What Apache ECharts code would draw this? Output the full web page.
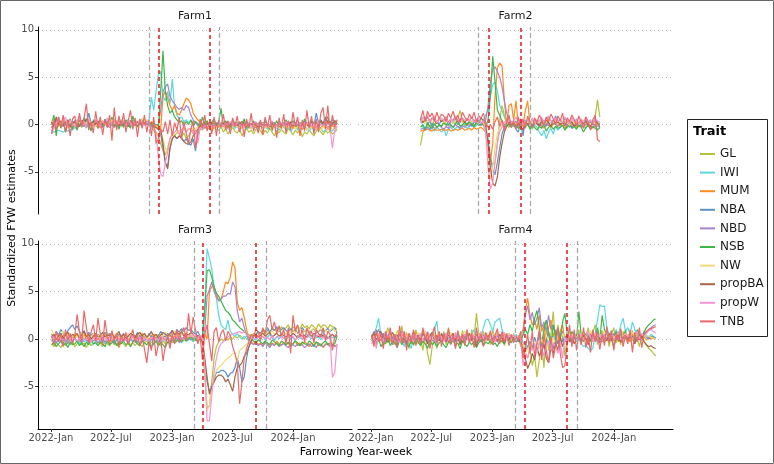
<!DOCTYPE html>
<html>
<head>
<meta charset="utf-8">
<script src="https://cdn.jsdelivr.net/npm/echarts@6/dist/echarts.min.js"></script>
<style>
  html, body { margin: 0; padding: 0; background: #fff; }
  #chart { width: 774px; height: 464px; }
</style>
</head>
<body>
<div id="chart"></div>
<script>
// weekly standardized FYW estimates, stored x10 (one value per week)
const traits = ['GL', 'IWI', 'MUM', 'NBA', 'NBD', 'NSB', 'NW', 'propBA', 'propW', 'TNB'];
const traitColors = ['#b5c23a', '#5cd8e0', '#ff8a1e', '#5c93c6', '#a884cc', '#40b548', '#f2d878', '#a8654a', '#f596d2', '#e86a6a'];
const farmNames = ['Farm1', 'Farm2', 'Farm3', 'Farm4'];
const farmFirstWeek = ['2022-01-03', '2022-05-30', '2022-01-03', '2022-01-03'];
const redLines = [['2022-11-23', '2023-04-26'], ['2022-12-20', '2023-03-27'], ['2023-04-04', '2023-09-12'], ['2023-04-08', '2023-08-13']];
const greyLines = [['2022-10-24', '2023-05-23'], ['2022-11-20', '2023-04-26'], ['2023-03-09', '2023-10-12'], ['2023-03-12', '2023-09-12']];
const xTicks = ['2022-01-01', '2022-07-01', '2023-01-01', '2023-07-01', '2024-01-01'];
const yTicks = [-5, 0, 5, 10];

// Farm1 (124 weeks)
const farm1_GL = [-8,-3,2,5,-2,0,4,-4,1,3, -2,5,1,-3,2,6,-1,0,3,-2, 2,-4,1,4,0,-2,3,1,-3,2, 5,0,-2,3,-1,2,4,-3,1,0, 3,2,1,-2,-5,-8,-12,-20,-28,-32, -25,-15,-10,-12,-8,-10,-13,-9,-15,-12, -8,-5,-10,-6,-3,-6,-2,-5,-4,-7, -3,-5,-6,-2,-8,-4,-10,-6,-3,-7, -9,-5,-12,-7,-4,-8,-6,-10,-5,-3, -7,-11,-6,-9,-4,-8,-12,-6,-9,-5, -8,-10,-4,-7,-11,-6,-9,-5,-13,-8, -10,-6,-9,-12,-7,-4,-8,-11,-6,-9, -7,-10,-8,-5];
const farm1_IWI = [-6,-8,-7,-6,-7,-8,-6,-7,-5,-6, -3,-5,0,-2,1,-4,2,-1,3,0, -2,1,4,-1,2,-3,0,3,-2,1, 2,-1,3,0,-2,4,1,-1,2,3, 1,4,5,29,15,35,53,56,30,25, 35,22,48,18,10,6,8,3,5,2, 4,0,3,-2,1,-1,2,-3,0,-2, 1,-3,-1,-4,-2,0,-5,-3,-1,-4, -2,-6,-3,-1,-5,-2,-4,0,-3,-6, -1,-4,-2,-5,-3,-7,-2,-4,-6,-1, -3,-5,-2,-7,-4,-1,-6,-3,-5,-2, -4,-7,-3,-5,-6,-2,-4,-8,-5,-3, -6,-7,-4,-5];
const farm1_MUM = [-4,2,0,-2,3,1,-1,4,0,-3, 2,-1,5,1,-2,3,0,2,-1,4, 1,-3,2,0,3,-2,1,4,-1,2, 0,3,-2,1,4,0,2,-1,3,1, 0,2,-1,3,0,-2,0,-5,30,35, 28,20,15,20,12,10,15,22,28,26, 22,12,8,5,2,-1,3,0,-2,2, -1,1,-3,0,-2,2,-1,-3,0,-2, 1,-2,-4,0,-1,-3,1,-2,0,-4, -1,-3,0,-2,-5,-1,-3,0,-2,-4, -1,-3,-2,0,-4,-2,-1,-3,-5,-2, 0,-3,-1,-4,-2,-5,-3,-1,-4,-2, -3,-1,-4,-2];
const farm1_NBA = [2,-3,5,1,-2,4,0,3,-1,2, 4,1,-2,3,6,0,12,2,-1,3, 0,2,-3,1,4,-1,2,0,3,-2, 1,3,0,-2,2,4,1,-1,3,0, 2,0,1,-1,-3,-2,-5,-10,-25,-40, -45,-25,-15,-12,-15,-12,-14,-18,-15,-20, -22,-15,-28,-10,-5,-2,-4,0,-3,1, -1,2,0,-2,1,-1,3,0,-2,1, 2,-1,0,3,-2,1,0,-1,2,0, -2,1,3,0,-1,2,-3,0,1,-1, 2,0,-2,1,3,-1,0,2,-1,4, 1,0,3,-2,12,2,5,1,8,3, 2,5,1,3];
const farm1_NBD = [-3,1,-1,2,0,-2,3,1,-1,0, 2,-1,3,0,-2,1,4,0,-1,2, 1,-2,0,3,-1,2,0,-3,1,4, 0,2,-1,1,3,-2,0,2,1,-1, 3,1,0,2,-1,0,0,15,35,40, 43,30,25,22,18,16,18,15,20,18, 10,5,2,0,-2,1,-1,2,0,-3, 1,-1,2,0,-2,1,3,-1,0,2, -1,1,0,-2,2,0,-1,3,1,-2, 0,2,-1,1,-3,0,2,-1,1,0, -2,1,3,0,-1,2,0,-2,1,-1, 2,0,-1,1,3,-2,0,2,-1,1, 0,2,-1,1];
const farm1_NSB = [0,10,-12,8,-4,3,-8,2,6,-5, 1,-6,4,-2,7,-3,2,-7,5,0, -4,3,-1,6,-3,1,8,-2,4,-5, 2,-3,5,0,-4,9,1,-2,3,6, -1,4,2,0,3,-2,-5,35,78,35, 20,12,15,8,5,2,4,-1,3,0, 5,-2,3,1,-3,8,0,4,-2,2, 6,-1,3,17,-2,4,0,-3,5,1, -2,3,0,6,-4,2,-1,4,-3,1, 3,-2,5,0,-5,2,-1,4,-3,1, -2,5,0,-3,4,1,-4,2,-1,6, 0,-3,4,2,-5,1,3,-2,5,8, -3,2,4,0];
const farm1_NW = [4,1,-2,3,0,5,2,-1,3,1, 0,4,2,-1,3,1,5,0,2,-2, 3,1,4,0,-1,2,5,1,3,0, 2,4,1,-1,3,0,5,2,1,6, 3,5,2,1,0,-2,-3,-8,-15,-25, -30,-20,-12,-10,-8,-6,-9,-5,-7,-4, -6,-3,-5,-2,-4,0,-3,-1,-2,-4, -1,-3,0,-2,-4,-1,-3,-5,-2,0, -3,-1,-4,-2,0,-3,-5,-1,-2,-4, 0,-2,-4,-1,-3,-6,-2,0,-3,-5, -1,-4,-2,-3,0,-5,-2,-4,-1,-3, -6,-2,-4,-1,-5,-3,-7,-2,-4,-6, -3,-5,-2,-4];
const farm1_propBA = [3,-2,8,0,4,-1,2,5,-3,1, 3,0,-2,4,1,6,2,-1,3,0, 4,-2,1,3,0,-3,2,5,1,-1, 3,0,2,-2,4,1,-1,3,0,2, 1,3,0,2,-2,-3,-5,-5,-20,-40, -47,-25,-15,-12,-15,-12,-15,-18,-20,-21, -18,-12,-8,-5,-2,0,-3,1,-1,2, 0,-2,1,-1,2,0,-3,1,0,-2, 1,-1,3,0,-2,1,-1,2,0,-3, 2,0,-1,1,-2,3,0,-1,2,1, -1,2,0,3,-2,1,4,0,-1,2, 1,-2,3,0,2,-1,4,1,6,2, 3,0,4,1];
const farm1_propW = [-10,-4,2,6,-2,3,8,-3,5,1, -2,4,8,0,3,-3,6,2,-1,5, 1,-2,4,0,7,-3,2,5,-1,3, 0,4,-2,6,1,-3,3,0,5,2, -1,3,0,-4,-6,-10,-35,-52,-55,-40, -30,-15,-10,-8,-5,-10,-6,-3,-8,-5, -4,-10,-6,-20,-3,-5,-1,-3,0,-2, 1,-3,0,2,-2,1,-1,3,0,-2, 2,-1,1,-3,0,2,-2,1,3,-1, 0,2,-3,1,-1,4,0,-2,2,1, -1,3,0,-2,2,-1,4,1,-3,2, 0,3,-2,1,-4,2,0,-1,3,-5, -5,-25,-6,-1];
const farm1_TNB = [-10,5,-6,8,-3,10,-8,4,-12,6, 9,-5,12,-2,7,22,-6,3,-9,14, -4,8,-11,5,-3,10,-17,18,-6,9, -2,12,-8,4,15,-5,7,-13,6,-4, 10,-8,5,-12,8,-20,-15,-5,-8,3, -10,5,-12,2,-6,8,-15,3,-9,-20, -5,4,-25,-8,6,-4,10,-7,3,-10, 8,-12,5,-3,11,-6,4,-10,7,-2, 9,-8,3,-13,6,-4,12,-7,2,-9, 5,-11,8,-3,10,-6,2,-14,7,-4, 11,-9,4,-6,13,-2,8,-12,5,-7, 15,-4,9,-10,6,-8,12,18,-5,20, -7,10,-3,5];

// Farm2 (78 weeks)
const farm2_GL = [-22,-8,-5,0,-3,2,-1,4,0,-2, 3,1,-2,5,2,0,6,15,3,-1, 2,0,4,-2,1,3,-1,0,-8,-20, -35,-43,-40,-20,5,20,10,0,-3,2, -2,0,3,-4,1,-3,2,0,-5,1, 3,-2,0,4,-1,2,-3,1,5,0, -2,3,1,-4,2,0,-1,3,-3,2, 0,4,-2,3,1,8,26,8];
const farm2_IWI = [8,-3,-5,-2,-6,-4,-7,-3,-5,-8, -4,-12,-5,-3,-6,-4,-2,-5,-3,-1, -4,-2,0,-3,-1,2,0,5,10,15, 30,42,45,35,20,15,8,3,0,2, -2,4,0,-3,1,5,-1,2,-4,0, -3,-8,-12,-6,-15,-8,-4,-10,-2,-6, -3,-1,-5,-2,0,-4,-1,-3,2,-2, -1,-4,0,-3,1,-2,-5,-3];
const farm2_MUM = [-7,-6,-6,-5,-6,-7,-5,-6,-6,-5, -6,-6,-5,-7,-6,-5,-6,-5,-4,-6, -5,-4,-6,-3,-5,-4,-3,-5,-8,-30, -40,-20,30,60,65,62,25,0,20,22, 5,25,0,3,-2,15,25,0,-3,2, 0,-2,3,-4,1,-1,-3,2,0,-2, 3,-1,-4,1,-2,0,2,-3,1,-1, -3,0,2,-2,-4,1,-2,-1];
const farm2_NBA = [5,2,8,0,4,-2,6,3,0,5, 2,7,-1,4,1,5,0,3,6,2, 0,4,-2,3,1,5,2,0,-5,-15, -35,-48,-53,-40,-25,-10,-3,2,-1,3, 0,-5,-8,2,-12,4,0,-3,5,1, 3,-1,6,2,-2,8,4,0,9,3, 5,-1,7,2,-3,4,0,6,-2,3, 1,5,-2,4,0,6,2,-3];
const farm2_NBD = [-5,-4,-6,-3,-5,-2,-4,-3,-1,-3, -5,-2,-4,-1,-3,0,-2,-4,-1,-3, 0,-2,1,-1,2,0,-1,3,5,20, 45,58,61,56,50,40,25,12,5,2, 0,3,-2,1,4,-1,2,0,-3,1, 3,0,-2,4,1,-1,2,5,0,-2, 1,3,-1,0,2,-3,1,4,0,-2, 2,0,-1,3,1,-2,0,2];
const farm2_NSB = [-3,0,-5,2,-2,-4,1,-3,0,-2, 2,-1,3,0,-3,1,4,-2,0,2, -1,3,0,-2,2,-1,1,0,-3,5, 30,72,45,15,10,3,0,-2,1,-3, 2,-1,-4,0,3,-2,1,-5,0,-3, -6,-2,-4,0,-7,-3,-1,-5,-2,-4, -3,0,-6,-2,1,-4,-2,-5,0,-3, -8,-3,-1,-5,-2,-4,-6,-3];
const farm2_NW = [3,5,1,4,6,2,5,3,7,4, 2,6,3,5,1,4,7,2,5,3, 6,4,2,5,3,1,4,2,-5,-30, -58,-45,-25,-10,-3,0,2,-1,3,1, 4,0,2,5,1,-2,3,0,4,2, 1,5,2,-1,3,6,0,2,4,1, 3,0,5,2,-1,4,1,3,0,2, 5,1,3,-1,4,2,0,3];
const farm2_propBA = [6,2,5,8,3,7,4,1,6,3, 5,8,2,6,4,9,3,5,7,2, 6,4,8,3,5,2,7,4,0,-20, -45,-62,-65,-55,-35,-20,-8,-2,3,0, 2,-3,1,-1,-6,3,0,2,-2,4, 1,-1,3,0,5,2,-2,4,1,3, 0,2,-1,4,1,3,-2,0,2,5, 1,3,0,-2,2,4,1,0];
const farm2_propW = [2,8,4,10,3,6,9,2,5,7, 4,8,1,6,3,9,5,2,7,4, 6,3,8,2,5,7,1,4,-10,-45, -68,-62,-40,-20,-8,-2,3,0,5,2, 4,8,2,6,0,3,5,1,7,2, 5,3,8,1,6,9,4,2,7,3, 6,2,8,4,1,7,3,5,0,6, 2,8,3,5,1,6,4,2];
const farm2_TNB = [5,15,3,14,8,12,4,13,6,11, 9,3,12,7,14,5,10,2,13,8, 4,11,6,13,3,9,7,12,2,-3, 0,-5,3,8,-2,5,-6,2,10,-3, 4,-5,8,-2,6,-4,9,1,-3,7, 2,10,5,-1,8,3,11,6,0,9, 4,12,-2,7,3,10,5,-1,9,2, -4,8,3,-6,5,10,-16,-18];

// Farm3 (124 weeks)
const farm3_GL = [-5,-8,-3,-6,-9,-4,-7,-2,-6,-3, -8,-5,-2,-6,-4,-9,-3,-7,-5,-2, -6,-4,-8,-3,-5,-7,-2,-6,-4,-9, -3,-5,-8,-2,-6,-4,-7,-3,-5,-8, -4,-2,-6,-3,-5,-1,-4,-7,-2,-5, -3,0,-4,-2,-1,3,0,-2,2,1, 4,2,0,3,1,-5,-40,-72,-70,-45, -20,-8,-3,0,-2,1,-1,2,0,3, 1,4,2,0,3,5,2,6,4,7, 5,8,6,10,7,12,9,11,8,13, 10,12,15,9,13,11,14,10,16,12, 14,11,15,13,10,16,12,15,14,11, 15,13,12,10];
const farm3_IWI = [-3,0,-5,2,-2,1,-4,3,-1,-3, 0,-2,-5,1,-3,-1,-4,0,-6,-2, 1,-3,-1,-5,0,-2,2,-4,-1,-3, 0,-2,1,-5,-1,-3,0,-4,2,-2, -1,1,-3,0,-5,-2,1,-4,-1,0, 2,-3,0,1,-2,3,-4,0,-2,-1, 1,-3,0,2,-1,5,35,95,85,74, 55,43,25,15,12,10,20,8,5,3, 6,2,0,3,1,-2,4,0,-1,2, 0,3,-1,2,5,1,-2,3,0,4, 1,-1,3,0,2,-2,4,1,0,3, 5,2,0,4,1,3,-1,6,2,0, 4,1,3,0];
const farm3_MUM = [5,2,-1,4,0,3,6,1,-2,3, 1,4,0,2,5,-1,3,0,2,4, -1,3,1,5,0,2,-2,4,1,3, 0,5,2,-1,3,1,4,0,2,6, 1,3,-1,4,2,0,5,1,3,-2, 2,4,0,3,1,5,-1,2,4,0, 3,1,-2,2,0,-3,5,0,50,55, 55,48,40,42,50,60,58,65,81,75, 39,30,33,23,10,0,-3,-5,-2,-6, -4,-7,-3,-5,-8,-4,-6,-2,-5,-7, -3,-6,-4,-8,-5,-2,-7,-4,-6,-3, -5,-8,-4,-6,-3,-7,-5,-9,-6,-4, -7,-5,-8,-6];
const farm3_NBA = [5,2,8,4,10,6,3,9,12,15, 10,14,8,5,9,3,7,4,6,2, 5,1,4,7,3,6,0,4,2,5, 3,6,1,4,0,5,2,7,3,1, 4,0,6,2,5,1,3,8,4,2, 6,3,9,5,10,7,11,8,12,9, 10,7,5,8,3,0,-25,-45,-55,-50, -42,-35,-35,-33,-33,-35,-40,-36,-35,-30, -20,-30,-45,-40,-20,-8,-2,3,5,8, 6,10,8,12,7,11,9,13,8,10, 12,9,7,11,8,10,6,9,12,8, 10,7,9,11,6,8,10,7,9,11, 8,10,12,6];
const farm3_NBD = [-2,1,-4,0,-3,2,-1,-5,0,-2, 1,-3,0,-4,2,-1,-3,1,-2,0, -4,-1,2,-3,0,-2,1,-5,-1,2, -3,0,-1,-4,1,-2,0,-3,2,-1, -2,1,-4,0,-1,2,-3,0,1,-2, 0,-3,2,-1,1,-4,0,2,-2,1, -1,2,0,3,1,-2,10,45,52,60, 50,44,40,42,45,45,48,47,60,55, 30,18,22,12,5,-2,-4,-6,-3,-7, -5,-8,-4,-6,-9,-5,-7,-4,-8,-6, -5,-7,-9,-4,-6,-8,-5,-7,-6,-9, -7,-5,-8,-6,-9,-4,-7,-8,-5,-6, -8,-6,-7,-9];
const farm3_NSB = [-6,-3,-8,-5,-2,-7,-4,-9,-3,-6, -5,-2,-7,-4,-8,-3,-6,-1,-5,-4, -7,-3,-5,-8,-2,-6,-4,-1,-7,-3, -5,-2,-6,-4,-8,-3,-1,-5,-7,-2, -4,-6,-3,-8,-5,-2,-7,-4,-6,-9, -3,-5,-1,-4,-2,0,-3,1,-2,0, 2,-1,0,-3,1,3,30,72,73,65, 55,48,45,40,35,30,28,25,20,18, 15,12,10,8,5,3,0,-2,-4,-1, -3,-5,-2,-4,-6,-1,-3,-5,-7,-2, -4,-6,-3,-8,-5,-2,-4,-7,-3,-5, -6,-2,-4,-8,-3,-5,-7,-4,-2,-6, -4,-7,-5,3];
const farm3_NW = [10,3,6,1,4,8,2,5,0,3, 6,2,4,7,1,5,3,0,6,2, 4,1,5,3,7,2,0,4,6,1, 3,5,2,6,0,4,1,3,7,2, 5,0,3,6,2,4,1,5,3,7, 2,6,4,8,3,5,9,4,6,3, 5,2,4,0,3,1,-30,-75,-70,-52, -40,-33,-30,-28,-25,-22,-20,-18,-15,-15, -25,-12,-10,-8,-5,-3,0,2,4,3, 5,7,4,8,6,9,5,7,10,6, 8,5,9,7,10,6,8,11,7,9, 6,10,8,12,7,9,11,8,10,7, 9,12,8,10];
const farm3_propBA = [2,5,0,3,6,1,4,7,2,5, 3,6,1,4,8,2,5,0,3,6, 1,4,7,2,5,3,6,1,4,8, 2,5,0,3,6,4,1,5,7,3, 6,2,4,8,3,5,1,4,7,5, 3,6,9,4,7,5,8,3,6,4, 7,5,2,4,1,-2,-20,-40,-58,-50, -45,-40,-38,-38,-40,-45,-42,-48,-55,-40, -30,-28,-25,-18,-15,-8,-2,3,5,2, 4,6,3,5,7,2,4,6,3,5, 4,2,5,3,6,4,1,5,3,4, 2,5,3,6,4,2,5,3,4,1, 3,5,2,4];
const farm3_propW = [3,0,2,-1,1,-2,0,3,-1,2, 0,-2,1,3,-1,0,2,-3,1,0, 2,-1,0,1,-2,3,0,-1,2,1, -1,2,0,-2,1,3,-1,0,2,-1, 1,0,-2,2,0,1,-1,3,0,-2, 2,0,1,-1,3,0,2,-1,1,4, 2,5,3,1,4,0,-30,-86,-86,-60, -35,-20,-10,-5,-3,0,2,4,5,6, 7,8,6,8,5,3,2,0,1,2, 0,3,1,2,-1,4,0,2,3,1, 2,0,4,1,3,-1,2,5,0,3, 1,4,2,0,3,5,2,1,4,2, 0,-40,-35,-5];
const farm3_TNB = [3,-6,8,-3,5,-8,10,-2,6,-5, 4,26,8,-3,30,12,-4,7,15,-2, 22,5,-6,20,3,-5,9,-2,6,-8, 4,-3,7,-6,2,10,-4,5,-7,3, -10,-25,-3,-12,5,-18,-6,2,-23,-8, 4,-10,6,-5,10,-3,8,12,-2,27, 5,23,10,-5,3,-22,5,15,-5,-23, 8,12,-3,6,10,-2,8,4,-8,-15, -25,-68,-45,-20,-10,-3,5,2,10,8, -2,12,5,20,25,10,18,6,14,3, 10,-5,12,-15,25,8,15,2,10,-3, 12,5,8,-4,10,6,2,12,-2,8, 5,-12,3,6];

// Farm4 (123 weeks)
const farm4_GL = [3,-5,8,-2,6,-8,4,12,-3,5, -6,9,-2,14,-4,7,-10,3,-7,10, -5,2,-12,6,-15,-27,-8,4,-10,6, -3,8,-6,12,-2,5,-9,3,-5,9, -2,6,-4,10,0,27,5,-3,8,-2, 4,-6,10,-1,6,-4,3,-7,5,0, -3,6,-2,4,-8,-5,-15,-20,-10,-28, -18,-40,-22,-5,-30,10,-12,5,29,-8, 15,-10,5,-18,3,8,-4,6,-2,10, -5,8,2,12,-3,6,15,-6,4,9, -2,7,-8,5,12,-4,3,-6,8,0, 5,-3,9,-5,2,-8,4,-2,-6,-10, -12,-15,-18];
const farm4_IWI = [0,5,12,22,3,-5,8,-2,4,-6, 2,-4,6,-1,-8,3,-5,-10,2,-3, 5,-2,8,0,-4,6,3,10,19,-2, 4,-3,7,1,-5,3,-2,6,0,-4, 2,8,-1,5,10,-2,6,3,12,20, 21,15,8,18,20,22,10,4,-2,6, 3,-1,5,0,2,-3,-5,-8,-2,-10, -5,-12,-8,-3,-10,2,-6,-1,4,-4, 0,-7,3,-2,5,-1,-4,2,-3,0, -5,-8,-6,-10,-12,-10,5,20,36,34, 35,12,5,8,-2,10,4,15,22,8, 12,5,18,10,3,8,-2,6,4,2, 5,3,1];
const farm4_MUM = [2,-3,5,0,-2,6,1,-4,3,-1, 4,-2,7,1,-3,5,0,-5,2,6, -1,3,-4,5,1,-2,7,0,-3,4, 2,-1,5,-3,0,6,-2,3,1,-4, 5,0,-2,4,1,-3,6,2,-1,3, 0,5,-2,3,8,1,-3,6,2,-1, 4,0,3,-2,5,10,30,43,25,15, 20,10,25,8,15,-5,12,20,3,10, -5,8,15,-3,6,2,-4,5,0,3, -2,4,1,-3,6,0,3,-1,5,2, -3,4,0,6,-2,3,1,-4,5,0, 2,-3,6,1,-2,4,0,3,-1,2, 0,1,0];
const farm4_NBA = [3,8,5,10,2,6,-1,4,7,0, 5,-2,3,8,1,-3,6,2,-1,4, 0,5,-3,2,7,-1,4,0,-4,3, 6,1,-2,5,0,3,-3,4,1,-1, 2,6,-2,3,0,5,1,-3,4,2, -1,3,6,0,4,-2,5,1,3,-1, 4,0,2,-3,1,-5,-12,-8,-3,-10, 2,-6,5,-8,0,-4,8,-2,-10,3, -5,6,-3,2,4,-1,3,0,5,2, -2,4,1,6,-1,3,0,8,2,-3, 5,1,4,-2,6,0,3,9,-1,4, 2,6,0,3,-2,5,1,4,2,0, 3,2,1];
const farm4_NBD = [-2,3,-4,1,-1,4,-3,0,2,-5, 1,-2,4,-1,-4,2,0,-3,5,-1, 3,-4,0,2,-2,5,-1,-3,1,4, -2,0,3,-4,1,-1,4,-2,0,2, -3,1,5,-1,2,-4,0,3,-2,1, 4,-1,2,0,-3,3,1,-2,5,0, 2,-1,3,0,-2,5,25,35,20,28, 15,22,33,12,18,8,25,10,15,5, 12,0,8,-3,5,2,-1,6,0,3, -2,4,1,-1,5,0,3,-3,2,6, 0,3,-2,5,1,-1,4,2,-3,6, 1,4,0,3,-2,5,2,8,6,10, 12,14,15];
const farm4_NSB = [2,-4,-6,0,-8,-3,-5,2,-7,-2, -4,-9,-1,-6,3,-5,-8,-2,-6,0, -3,-7,-2,-5,-10,-1,-6,-3,-8,-4, -2,-6,-9,-3,-5,-1,-7,-4,-10,-2, -5,-8,-3,-6,-2,-9,-4,-1,-7,-3, -5,-2,-6,-4,-8,-1,-3,-5,0,-2, -4,1,-3,0,-2,4,10,5,15,8, 22,30,12,-5,10,20,5,-8,15,3, 10,-3,18,27,5,-2,8,3,0,29, 4,-3,6,1,-2,8,3,12,-1,25, 10,4,-2,6,1,8,-3,5,2,9, 0,6,3,-2,10,4,1,7,12,15, 17,20,21];
const farm4_NW = [5,2,8,3,6,0,4,9,1,5, 3,7,0,4,8,2,5,-1,6,3, 7,1,4,9,2,5,0,6,3,8, 2,5,-1,4,7,1,6,3,0,5, 8,2,4,6,1,9,3,5,0,7, 4,1,6,3,8,2,5,0,4,6, 2,5,1,3,0,-5,-15,-10,-5,-12, -8,-2,-10,0,-6,5,-3,-9,2,-5, 3,-4,6,0,4,8,2,5,1,6, 3,7,1,4,9,2,6,0,5,3, 8,2,4,7,1,5,3,9,2,6, 4,1,7,3,5,0,6,2,4,3, 2,1,0];
const farm4_propBA = [2,6,-1,4,8,0,5,-3,3,7, 1,4,-2,6,3,-4,5,0,8,2, 4,-1,6,2,-5,3,7,0,4,-2, 5,1,-3,4,2,6,-1,3,-6,2, 4,0,6,-2,3,-8,1,5,-1,4, 2,6,0,3,-2,5,1,-4,3,0, 4,1,-3,2,-5,-10,-20,-31,-25,-15, -22,-8,-18,-12,-5,-20,-25,-10,-15,-3, -12,2,-8,0,4,-3,2,-5,1,3, -2,4,0,-6,2,5,-1,3,-4,0, 3,-2,6,0,-8,2,4,-3,1,5, -2,3,0,-5,2,-1,4,-3,-6,-8, -7,-9,-10];
const farm4_propW = [-5,3,-10,6,2,-3,8,0,4,-2, 5,1,-4,7,2,-1,6,3,-3,4, 0,6,-2,3,8,-1,4,2,-5,5, 1,-3,6,2,4,-2,7,0,3,-1, 5,2,-4,6,1,3,-2,8,0,4, -1,5,2,-3,6,0,3,7,-2,4, 1,5,-2,3,0,-28,-15,-20,-8,-12, -5,-15,-3,-10,-18,-6,-2,-12,-4,-8, -15,-3,-20,2,-5,4,0,6,-2,3, 5,-1,4,8,2,-3,6,1,4,-2, 3,7,0,5,-1,4,8,2,-3,6, 2,5,-1,4,8,0,6,3,7,9, 10,8,6];
const farm4_TNB = [4,-8,10,-3,6,-10,8,-2,12,-6, 5,-9,14,-4,8,-12,6,-3,10,-7, 3,-5,12,-2,7,-10,5,13,-4,8, -8,6,-3,11,-6,4,-10,9,-2,5, -7,10,-4,6,-9,12,-3,5,-8,7, -2,9,-6,4,11,-5,8,-3,6,-7, 5,-4,3,-1,8,-20,-10,5,-15,8, -18,-5,10,-22,6,-12,-25,3,-20,-8, 12,-15,-30,-28,-5,15,-8,10,-12,6, -6,12,-9,4,-14,10,-3,8,-11,5, -7,13,-4,9,-12,6,-2,11,-8,4, -5,10,-14,7,-3,12,-9,5,8,10, 11,12,13];

const farmData = [
  [farm1_GL, farm1_IWI, farm1_MUM, farm1_NBA, farm1_NBD, farm1_NSB, farm1_NW, farm1_propBA, farm1_propW, farm1_TNB],
  [farm2_GL, farm2_IWI, farm2_MUM, farm2_NBA, farm2_NBD, farm2_NSB, farm2_NW, farm2_propBA, farm2_propW, farm2_TNB],
  [farm3_GL, farm3_IWI, farm3_MUM, farm3_NBA, farm3_NBD, farm3_NSB, farm3_NW, farm3_propBA, farm3_propW, farm3_TNB],
  [farm4_GL, farm4_IWI, farm4_MUM, farm4_NBA, farm4_NBD, farm4_NSB, farm4_NW, farm4_propBA, farm4_propW, farm4_TNB]
];

const DAY = 86400000;
function utc(s) {
  const p = s.split('-');
  return Date.UTC(+p[0], +p[1] - 1, +p[2]);
}
const MONTHS = ['Jan', 'Feb', 'Mar', 'Apr', 'May', 'Jun', 'Jul', 'Aug', 'Sep', 'Oct', 'Nov', 'Dec'];
const xMin = utc('2021-11-23');
const xMax = utc('2024-06-27');
const xTickValues = xTicks.map(utc);
const FONT = 'DejaVu Sans';

const grids = [
  { left: 38, top: 27, width: 314, height: 187 },
  { left: 358, top: 27, width: 315, height: 187 },
  { left: 38, top: 241, width: 314, height: 188 },
  { left: 358, top: 241, width: 315, height: 188 }
];

// x axis is a value axis over UTC timestamps, ticks on Jan/Jul
const xAxes = grids.map((g, i) => {
  const bottom = i >= 2;
  return {
    type: 'value', gridIndex: i, min: xMin, max: xMax, scale: true,
    axisLine: { show: bottom, onZero: false, lineStyle: { color: '#000', width: 1 } },
    axisTick: { show: bottom, length: 3, customValues: xTickValues, lineStyle: { color: '#333' } },
    axisLabel: {
      show: bottom, customValues: xTickValues, fontSize: 10, color: '#4d4d4d', margin: 4,
      fontFamily: FONT,
      formatter: v => { const d = new Date(v); return d.getUTCFullYear() + '-' + MONTHS[d.getUTCMonth()]; }
    },
    splitLine: { show: false }
  };
});

const yAxes = grids.map((g, i) => {
  const left = i % 2 === 0;
  return {
    type: 'value', gridIndex: i, min: -9.45, max: 10.3,
    axisLine: { show: left, onZero: false, lineStyle: { color: '#000', width: 1 } },
    axisTick: { show: left, length: 3, customValues: yTicks, lineStyle: { color: '#333' } },
    axisLabel: { show: left, customValues: yTicks, fontSize: 10, color: '#4d4d4d', margin: 4, fontFamily: FONT },
    splitLine: { show: true, lineStyle: { color: '#bdbdbd', width: 1, type: [1, 3] } }
  };
});

const series = [];
farmData.forEach((arr, f) => {
  const t0 = utc(farmFirstWeek[f]);
  arr.forEach((vals, k) => {
    const s = {
      name: traits[k], type: 'line', xAxisIndex: f, yAxisIndex: f,
      showSymbol: false, symbol: 'none', silent: true,
      color: traitColors[k],
      lineStyle: { width: 1.2, color: traitColors[k] },
      data: vals.map((v, i) => [t0 + i * 7 * DAY, v / 10])
    };
    if (k === arr.length - 1) {
      s.markLine = {
        silent: true, symbol: ['none', 'none'], label: { show: false },
        data: greyLines[f].map(d => ({ xAxis: utc(d), lineStyle: { color: '#a9a9a9', width: 1.3, type: [5, 3] } }))
          .concat(redLines[f].map(d => ({ xAxis: utc(d), lineStyle: { color: '#e8262b', width: 1.6, type: [4, 3] } })))
      };
    }
    series.push(s);
  });
});

const graphics = [
  { type: 'rect', shape: { x: 0.5, y: 0.5, width: 773, height: 463 }, style: { fill: 'none', stroke: '#666', lineWidth: 1 }, silent: true },
  { type: 'rect', shape: { x: 687.5, y: 119.5, width: 80, height: 217 }, style: { fill: 'none', stroke: '#222', lineWidth: 1 }, silent: true },
  { type: 'text', x: 693, y: 132, style: { text: 'Trait', font: 'bold 13px ' + FONT, fill: '#000', textVerticalAlign: 'middle' }, silent: true },
  { type: 'text', x: 356, y: 452, style: { text: 'Farrowing Year-week', font: '11px ' + FONT, fill: '#000', textAlign: 'center', textVerticalAlign: 'middle' }, silent: true },
  { type: 'text', x: 12, y: 228, rotation: Math.PI / 2, style: { text: 'Standardized FYW estimates', font: '11px ' + FONT, fill: '#000', textAlign: 'center', textVerticalAlign: 'middle' }, silent: true }
];
farmNames.forEach((n, i) => {
  const g = grids[i];
  graphics.push({ type: 'text', x: g.left + g.width / 2, y: g.top - 11, style: { text: n, font: '11px ' + FONT, fill: '#1a1a1a', textAlign: 'center', textVerticalAlign: 'middle' }, silent: true });
});

const chart = echarts.init(document.getElementById('chart'), null, { renderer: 'canvas' });
chart.setOption({
  animation: false,
  backgroundColor: '#fff',
  textStyle: { fontFamily: FONT },
  grid: grids,
  xAxis: xAxes,
  yAxis: yAxes,
  legend: {
    data: traits, orient: 'vertical', left: 695, top: 142,
    itemWidth: 15, itemHeight: 2, itemGap: 4.6, icon: 'rect', selectedMode: false,
    textStyle: { fontSize: 12, color: '#1a1a1a', fontFamily: FONT, lineHeight: 14 }
  },
  graphic: graphics,
  series: series
});
</script>
</body>
</html>
